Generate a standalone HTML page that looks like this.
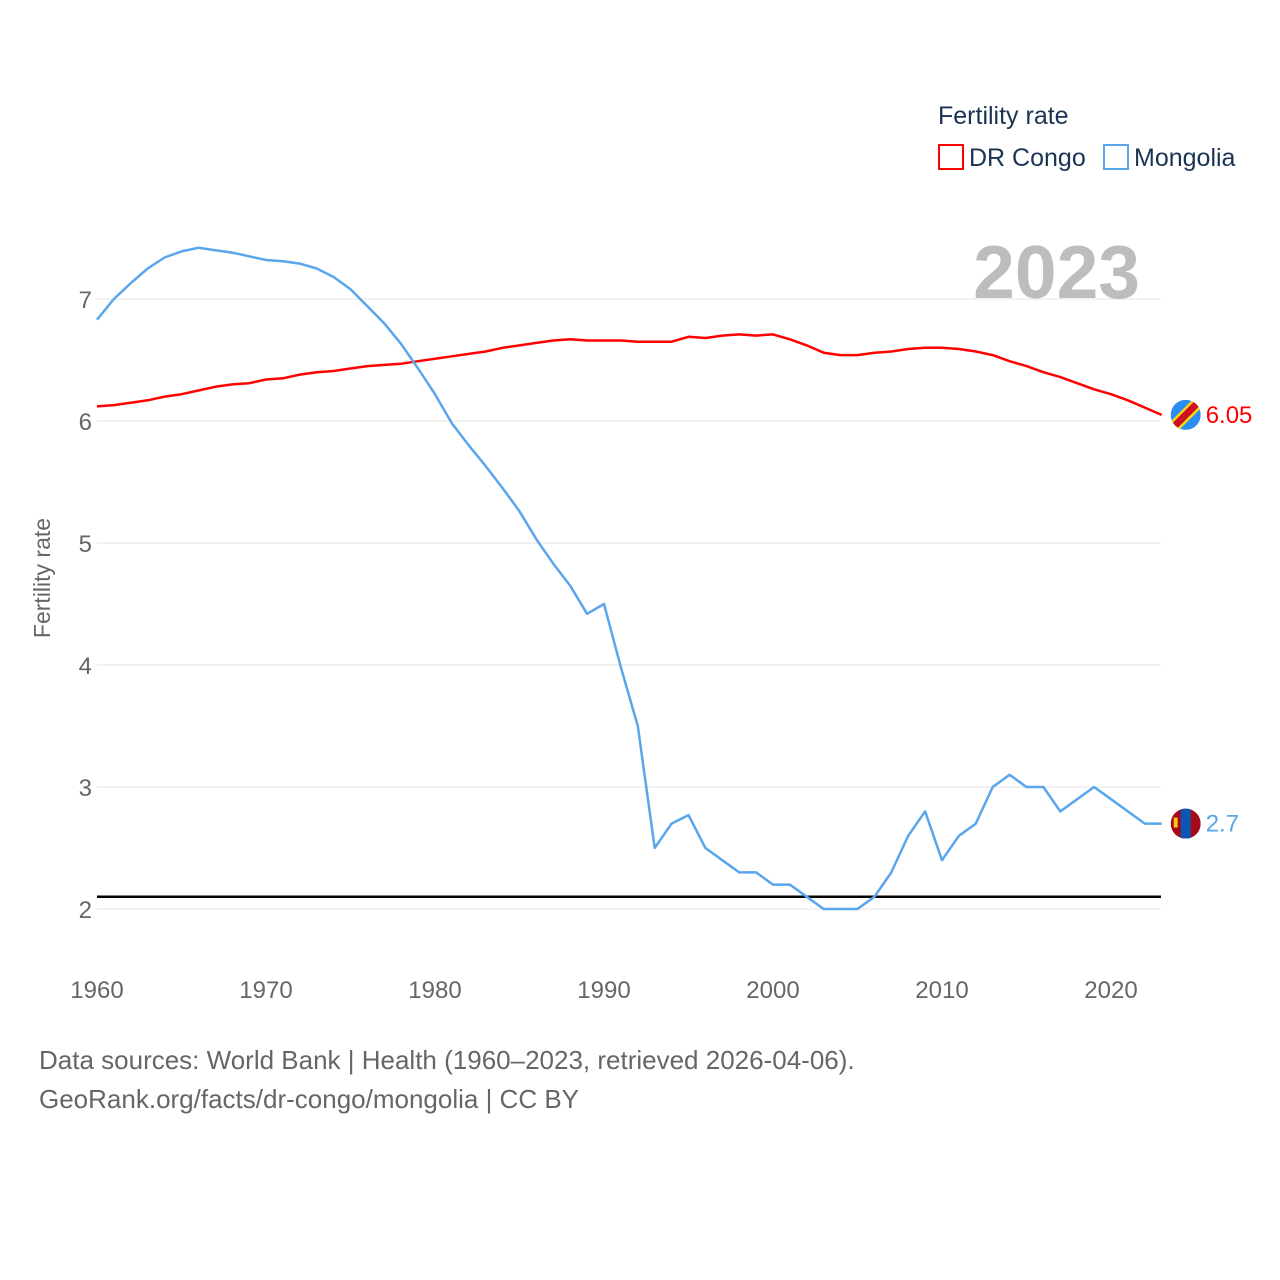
<!DOCTYPE html>
<html><head><meta charset="utf-8"><style>
body{margin:0;background:#fff;}
svg{display:block;font-family:"Liberation Sans",sans-serif;}
</style></head><body>
<svg id="chart" width="1280" height="1280" viewBox="0 0 1280 1280">
<g id="grid"></g>
<g id="series"></g>
<text x="1140" y="298" font-size="75" font-weight="bold" fill="#bdbdbd" text-anchor="end">2023</text>
<text x="938" y="124" font-size="25" fill="#1b3352">Fertility rate</text>
<g><rect x="939" y="145" width="24" height="24" fill="none" stroke="#ff0000" stroke-width="2"/><text x="969" y="166" font-size="25" fill="#1b3352">DR Congo</text></g>
<g><rect x="1104" y="145" width="24" height="24" fill="none" stroke="#5aa6ec" stroke-width="2"/><text x="1134" y="166" font-size="25" fill="#1b3352">Mongolia</text></g>
<text transform="translate(50,578) rotate(-90)" font-size="23" fill="#666" text-anchor="middle">Fertility rate</text>
<text x="39" y="1069" font-size="26" fill="#666">Data sources: World Bank | Health (1960–2023, retrieved 2026-04-06).</text>
<text x="39" y="1108" font-size="26" fill="#666">GeoRank.org/facts/dr-congo/mongolia | CC BY</text>
</svg>
<script>
const years=[];for(let y=1960;y<=2023;y++)years.push(y);
const drCongo=[6.12,6.13,6.15,6.17,6.20,6.22,6.25,6.28,6.30,6.31,6.34,6.35,6.38,6.40,6.41,6.43,6.45,6.46,6.47,6.49,6.51,6.53,6.55,6.57,6.60,6.62,6.64,6.66,6.67,6.66,6.66,6.66,6.65,6.65,6.65,6.69,6.68,6.70,6.71,6.70,6.71,6.67,6.62,6.56,6.54,6.54,6.56,6.57,6.59,6.60,6.60,6.59,6.57,6.54,6.49,6.45,6.40,6.36,6.31,6.26,6.22,6.17,6.11,6.05];
const mongolia=[6.83,7.00,7.13,7.25,7.34,7.39,7.42,7.40,7.38,7.35,7.32,7.31,7.29,7.25,7.18,7.08,6.94,6.80,6.63,6.43,6.22,5.98,5.80,5.63,5.45,5.26,5.03,4.83,4.65,4.42,4.50,3.98,3.50,2.50,2.70,2.77,2.50,2.40,2.30,2.30,2.20,2.20,2.10,2.00,2.00,2.00,2.10,2.30,2.60,2.80,2.40,2.60,2.70,3.00,3.10,3.00,3.00,2.80,2.90,3.00,2.90,2.80,2.70,2.70];
const yTicks=[2,3,4,5,6,7];
const xTicks=[1960,1970,1980,1990,2000,2010,2020];
const replacement=[2.1];
const NS="http://www.w3.org/2000/svg";
const X=y=>97+(y-1960)*(1014/60);
const Y=v=>909-(v-2)*122;
const grid=document.getElementById('grid'),ser=document.getElementById('series');
function mk(tag,attrs,parent,txt){const e=document.createElementNS(NS,tag);for(const k in attrs)e.setAttribute(k,attrs[k]);if(txt!==undefined)e.textContent=txt;parent.appendChild(e);return e;}
yTicks.forEach(t=>{
 const l=mk('line',{x1:97,x2:1161,y1:Y(t),y2:Y(t),stroke:'#e6e6e6','stroke-width':1},grid);
 
 
 const tx=mk('text',{x:92,y:Y(t)+9,'font-size':24,fill:'#666','text-anchor':'end'},grid,String(t));
 
 
});
xTicks.forEach(t=>{
 const tx=mk('text',{x:X(t),y:998,'font-size':24,fill:'#666','text-anchor':'middle'},grid,String(t));
 
 
});
const rl=mk('line',{x1:97,x2:1161,y1:Y(replacement[0]),y2:Y(replacement[0]),stroke:'#000','stroke-width':2.5},ser);


function line(vals,color,name){
 const p=mk('path',{d:vals.map((v,i)=>(i?'L':'M')+X(years[i]).toFixed(1)+','+Y(v).toFixed(1)).join(''),fill:'none',stroke:color,'stroke-width':2.5,'stroke-linejoin':'round'},ser);
 
 
}
line(drCongo,'#ff0000','dr-congo-line');
line(mongolia,'#5aa6ec','mongolia-line');
const lastX=X(2023);
const cx=lastX+24;
const dv=drCongo[drCongo.length-1],mv=mongolia[mongolia.length-1];
const f1=mk('g',{},ser);


mk('clipPath',{id:'c1'},f1);
mk('circle',{cx:cx,cy:Y(dv),r:15},document.getElementById('c1'));
const g1=mk('g',{'clip-path':'url(#c1)'},f1);
mk('rect',{x:cx-15,y:Y(dv)-15,width:30,height:30,fill:'#2d8cf0'},g1);
mk('line',{x1:cx-16,y1:Y(dv)+16,x2:cx+16,y2:Y(dv)-16,stroke:'#f7d618','stroke-width':12},g1);
mk('line',{x1:cx-16,y1:Y(dv)+16,x2:cx+16,y2:Y(dv)-16,stroke:'#ce1021','stroke-width':7},g1);
const t1=mk('text',{x:cx+20,y:Y(dv)+8,'font-size':24,fill:'#ff0000'},ser,String(dv));


const f2=mk('g',{},ser);


mk('clipPath',{id:'c2'},f2);
mk('circle',{cx:cx,cy:Y(mv),r:15},document.getElementById('c2'));
const g2=mk('g',{'clip-path':'url(#c2)'},f2);
mk('rect',{x:cx-15,y:Y(mv)-15,width:30,height:30,fill:'#a6091a'},g2);
mk('rect',{x:cx-5,y:Y(mv)-15,width:10,height:30,fill:'#0b55b5'},g2);
mk('rect',{x:cx-12,y:Y(mv)-6,width:4,height:10,fill:'#f5c518'},g2);
const t2=mk('text',{x:cx+20,y:Y(mv)+8,'font-size':24,fill:'#5aa6ec'},ser,String(mv));


</script>
</body></html>
